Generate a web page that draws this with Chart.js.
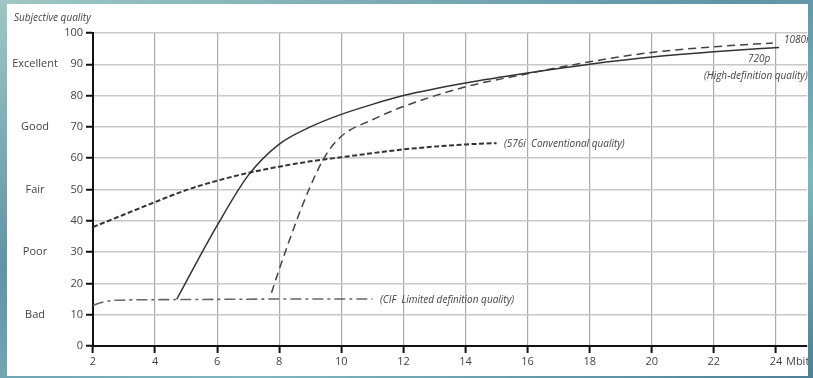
<!DOCTYPE html>
<html>
<head>
<meta charset="utf-8">
<script src="https://cdn.jsdelivr.net/npm/chart.js@4.4.1/dist/chart.umd.min.js"></script>
<style>
  html, body { margin: 0; padding: 0; }
  body {
    width: 813px; height: 378px; overflow: hidden; position: relative;
    background: linear-gradient(160deg, #9ec7c4 0%, #5f93a8 40%, #7fb6bd 70%, #4e7f96 100%);
  }
  #panel { position: absolute; left: 7px; top: 4px; width: 801px; height: 372px; background: #fff; }
  #wrap { position: absolute; left: 0; top: 0; width: 813px; height: 378px; }
</style>
</head>
<body>
<div id="panel"></div>
<div id="wrap"><canvas id="myChart" width="813" height="378"></canvas></div>
<script>
// du lieu doc tu hinh (x = Mbit/s, y = chat luong chu quan)
var hd720X = [4.7, 6, 7, 8, 9, 10, 11, 12, 14, 16, 18, 20, 22, 24.1];
var hd720Y = [15, 38.5, 54.5, 64.5, 70, 74, 77.2, 80, 84, 87.2, 90, 92.3, 94, 95.4];

var hd1080X = [7.75, 8, 8.5, 9, 9.5, 10, 11, 12, 14, 16, 18, 20, 22, 23.9];
var hd1080Y = [17, 24.5, 38.5, 51, 61, 67, 72.3, 76.5, 82.8, 87, 90.8, 93.8, 95.6, 96.8];

var sd576X = [2, 3, 4, 5, 6, 7, 8, 9, 10, 12, 14, 15];
var sd576Y = [38, 42, 46, 49.8, 52.8, 55.3, 57.3, 59, 60.3, 62.8, 64.4, 64.8];

var cifX = [2, 2.3, 2.7, 4, 6, 8, 11];
var cifY = [13, 14, 14.6, 14.8, 14.9, 15, 15];

var xTicks = [2, 4, 6, 8, 10, 12, 14, 16, 18, 20, 22, 24];
var qualityNames = ['Bad', 'Poor', 'Fair', 'Good', 'Excellent'];
var qualityValues = [10, 30, 50, 70, 90];

function toPoints(xs, ys) {
    return xs.map(function (x, i) { return { x: x, y: ys[i] }; });
}

var chu = '"Open Sans", "DejaVu Sans", sans-serif';

// ve chu thich tren do thi
var nhanPlugin = {
    id: 'nhan',
    afterDraw: function (chart) {
        var ctx = chart.ctx;
        var sy = chart.scales.y;
        ctx.save();
        ctx.beginPath();
        ctx.rect(0, 0, 808, 378);
        ctx.clip();
        ctx.fillStyle = '#444';
        ctx.textBaseline = 'middle';

        ctx.font = '11px ' + chu;
        ctx.textAlign = 'center';
        qualityNames.forEach(function (n, i) {
            ctx.fillText(n, 35, sy.getPixelForValue(qualityValues[i]));
        });

        ctx.textAlign = 'left';
        ctx.font = 'italic 10px ' + chu;
        ctx.fillText('Subjective quality', 14, 18);
        ctx.fillText('1080i', 784, 40);
        ctx.fillText('720p', 748, 59);
        ctx.fillText('(High-definition quality)', 704, 76);
        ctx.fillText('(576i  Conventional quality)', 504, 144);
        ctx.fillText('(CIF  Limited definition quality)', 380, 300);

        ctx.font = '11px ' + chu;
        ctx.fillText('Mbit/s', 786, 362);
        ctx.restore();
    }
};

var bieudo = new Chart('myChart', {
    type: 'line',
    data: {
        datasets: [{
            label: '720p',
            data: toPoints(hd720X, hd720Y),
            borderColor: '#333',
            borderWidth: 1.5,
            cubicInterpolationMode: 'monotone'
        }, {
            label: '1080i',
            data: toPoints(hd1080X, hd1080Y),
            borderColor: '#444',
            borderWidth: 1.5,
            borderDash: [8, 5],
            cubicInterpolationMode: 'monotone'
        }, {
            label: '576i',
            data: toPoints(sd576X, sd576Y),
            borderColor: '#333',
            borderWidth: 2,
            borderDash: [5, 2.5],
            cubicInterpolationMode: 'monotone'
        }, {
            label: 'CIF',
            data: toPoints(cifX, cifY),
            borderColor: '#666',
            borderWidth: 1.6,
            borderDash: [11, 4, 3, 4],
            cubicInterpolationMode: 'monotone'
        }]
    },
    options: {
        responsive: false,
        animation: false,
        layout: { padding: { left: 0, top: 33, right: 6, bottom: 0 } },
        elements: { point: { radius: 0 } },
        plugins: { legend: { display: false }, tooltip: { enabled: false } },
        scales: {
            x: {
                type: 'linear',
                min: 2,
                max: 25,
                afterBuildTicks: function (scale) {
                    scale.ticks = xTicks.map(function (v) { return { value: v }; });
                },
                afterFit: function (scale) { scale.height = 32; },
                ticks: {
                    color: '#444',
                    font: { family: chu, size: 11 },
                    padding: 2,
                    maxRotation: 0
                },
                grid: {
                    color: '#ababab',
                    lineWidth: 1.2,
                    tickColor: '#111',
                    tickWidth: 2,
                    tickLength: 7
                },
                border: { color: '#111', width: 2 }
            },
            y: {
                min: 0,
                max: 100,
                afterFit: function (scale) { scale.width = 93; },
                ticks: {
                    stepSize: 10,
                    color: '#444',
                    font: { family: chu, size: 11 },
                    padding: 3
                },
                grid: {
                    color: '#c8c8c8',
                    lineWidth: 1.5,
                    tickColor: '#111',
                    tickWidth: 2,
                    tickLength: 7
                },
                border: { color: '#111', width: 2 }
            }
        }
    },
    plugins: [nhanPlugin]
});
</script>
</body>
</html>
